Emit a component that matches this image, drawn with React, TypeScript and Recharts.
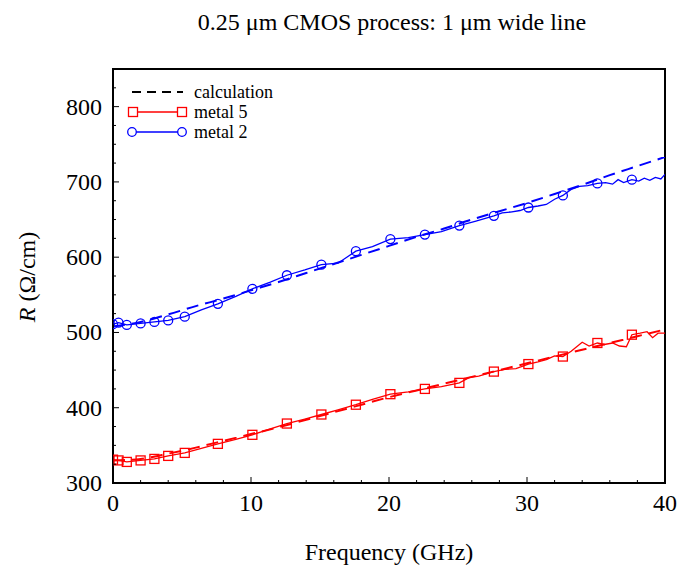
import React from 'react';
import { ComposedChart, Line, XAxis, YAxis, ReferenceArea, Legend } from 'recharts';

const FONT = '"Liberation Serif", "Times New Roman", Times, serif';

// Calculation curves (dashed)
const calcFreq = [0, 2, 4, 6, 8, 10, 12, 14, 16, 18, 20, 22, 24, 26, 28, 30, 32, 34, 36, 38, 40];
const calcMetal2 = [508, 514, 524, 535, 545, 556, 567, 579, 591, 603, 615, 627, 638, 650, 661, 672, 684, 696, 709, 721, 733];
const calcMetal5 = [330, 332, 339, 347, 356, 365, 374, 384, 394, 404, 414, 423, 432, 441, 450, 459, 468, 477, 486, 495, 504];

// Measured traces [GHz, Ohm/cm]
const metal2Trace: [number, number][] = [
  [0, 511], [0.4, 513], [1.0, 510], [2.0, 512], [3.0, 514], [4.0, 516], [5.2, 521], [6.4, 530],
  [7.6, 538], [8.9, 548], [10.1, 558], [11.4, 567], [12.6, 576], [13.9, 583], [15.1, 590], [16.3, 592],
  [17.6, 608], [18.8, 614], [20.1, 624], [21.4, 626], [22.6, 630], [23.8, 634], [25.1, 642], [26.3, 648],
  [27.6, 655], [28.2, 659], [28.8, 660], [29.5, 662], [30.1, 666], [30.8, 668], [31.4, 670], [32.0, 677],
  [32.6, 682], [33.2, 690], [33.8, 694], [34.4, 695], [35.1, 698], [35.7, 699], [36.2, 697], [36.6, 703],
  [37.0, 699], [37.6, 703], [38.1, 701], [38.5, 705], [38.9, 702], [39.3, 706], [39.7, 704], [40, 710],
];
const metal5Trace: [number, number][] = [
  [0, 331], [0.4, 330], [1.0, 328], [2.0, 330], [3.0, 332], [4.0, 336], [5.2, 340], [6.4, 346],
  [7.6, 352], [8.9, 358], [10.1, 364], [11.4, 372], [12.6, 379], [13.9, 385], [15.1, 391], [16.3, 397],
  [17.6, 404], [18.8, 411], [20.1, 418], [21.4, 421], [22.6, 425], [23.8, 428], [25.1, 433], [25.8, 440],
  [26.5, 442], [27.6, 448], [28.4, 451], [29.2, 452], [30.1, 458], [30.8, 461], [31.4, 464], [32.0, 469],
  [32.6, 468], [33.2, 475], [34.0, 487], [34.5, 482], [35.1, 486], [35.6, 484], [36.2, 486], [36.7, 482],
  [37.2, 481], [37.6, 497], [38.2, 499], [38.7, 501], [39.1, 493], [39.5, 499], [40, 499],
];
const markerFreq = [0, 0.4, 1.0, 2.0, 3.0, 4.0, 5.2, 7.6, 10.1, 12.6, 15.1, 17.6, 20.1, 22.6, 25.1, 27.6, 30.1, 32.6, 35.1, 37.6];

const xTicks = [0, 2, 4, 6, 8, 10, 12, 14, 16, 18, 20, 22, 24, 26, 28, 30, 32, 34, 36, 38, 40];
const yTicks = [300, 325, 350, 375, 400, 425, 450, 475, 500, 525, 550, 575, 600, 625, 650, 675, 700, 725, 750, 775, 800, 825];

const calc2Data = calcFreq.map((f, i) => ({ f, r: calcMetal2[i] }));
const calc5Data = calcFreq.map((f, i) => ({ f, r: calcMetal5[i] }));
const m2Data = metal2Trace.map(([f, r]) => ({ f, r, m: markerFreq.includes(f) }));
const m5Data = metal5Trace.map(([f, r]) => ({ f, r, m: markerFreq.includes(f) }));

const RED = '#ff0000';
const BLUE = '#0000ff';

const XTick = (props: any) => {
  const { x, y, payload } = props;
  const major = payload.value % 10 === 0;
  return (
    <g>
      <line x1={x} y1={y} x2={x} y2={y - (major ? 6 : 3)} stroke="#000" strokeWidth={1} />
      {major && (
        <text x={x} y={y + 28} textAnchor="middle" fontFamily={FONT} fontSize={24} fill="#000">
          {payload.value}
        </text>
      )}
    </g>
  );
};

const YTick = (props: any) => {
  const { x, y, payload } = props;
  const major = payload.value % 100 === 0;
  return (
    <g>
      <line x1={x} y1={y} x2={x + (major ? 6 : 3)} y2={y} stroke="#000" strokeWidth={1} />
      {major && (
        <text x={x - 11} y={y + 8} textAnchor="end" fontFamily={FONT} fontSize={24} fill="#000">
          {payload.value}
        </text>
      )}
    </g>
  );
};

const squareDot = (props: any) => {
  const { cx, cy, payload, index } = props;
  if (!payload || !payload.m) return <g key={`s${index}`} />;
  return <rect key={`s${index}`} x={cx - 4.5} y={cy - 4.5} width={9} height={9} fill="none" stroke={RED} strokeWidth={1.3} />;
};
const circleDot = (props: any) => {
  const { cx, cy, payload, index } = props;
  if (!payload || !payload.m) return <g key={`c${index}`} />;
  return <circle key={`c${index}`} cx={cx} cy={cy} r={4.5} fill="none" stroke={BLUE} strokeWidth={1.3} />;
};

const LegendBox = () => (
  <svg width={200} height={64} style={{ display: 'block' }}>
    <line x1={7} y1={12} x2={58} y2={12} stroke="#000" strokeWidth={2} strokeDasharray="9 6" />
    <text x={69} y={18} fontFamily={FONT} fontSize={18} fill="#000">calculation</text>
    <line x1={8} y1={32} x2={57} y2={32} stroke={RED} strokeWidth={1.3} />
    <rect x={3.5} y={27.5} width={9} height={9} fill="#fff" stroke={RED} strokeWidth={1.3} />
    <rect x={52.5} y={27.5} width={9} height={9} fill="#fff" stroke={RED} strokeWidth={1.3} />
    <text x={69} y={38} fontFamily={FONT} fontSize={18} fill="#000">metal 5</text>
    <line x1={7} y1={52} x2={57} y2={52} stroke={BLUE} strokeWidth={1.3} />
    <circle cx={7} cy={52} r={4.3} fill="#fff" stroke={BLUE} strokeWidth={1.3} />
    <circle cx={57} cy={52} r={4.3} fill="#fff" stroke={BLUE} strokeWidth={1.3} />
    <text x={69} y={58} fontFamily={FONT} fontSize={18} fill="#000">metal 2</text>
  </svg>
);

const YLabel = () => (
  <text transform="translate(35, 277) rotate(-90)" textAnchor="middle" fontFamily={FONT} fontSize={24} fill="#000">
    <tspan fontStyle="italic">R</tspan>
    <tspan> (Ω/cm)</tspan>
  </text>
);

const XLabel = () => (
  <text x={389} y={560} textAnchor="middle" fontFamily={FONT} fontSize={24} fill="#000">
    Frequency (GHz)
  </text>
);

export default function App() {
  return (
    <div style={{ position: 'absolute', left: 0, top: 0, width: 696, height: 567, background: '#fff', fontFamily: FONT }}>
      <div
        style={{
          position: 'absolute', left: 0, top: 8, width: 784, textAlign: 'center',
          fontFamily: FONT, fontSize: 24, lineHeight: '28px', color: '#000',
        }}
      >
        0.25 μm CMOS process: 1 μm wide line
      </div>
      <ComposedChart width={696} height={567} margin={{ top: 69, right: 31, bottom: 0, left: 0 }}>
        <XAxis
          dataKey="f"
          type="number"
          domain={[0, 40]}
          ticks={xTicks}
          interval={0}
          tickSize={0}
          tickMargin={0}
          height={84}
          axisLine={{ stroke: '#000', strokeWidth: 2 }}
          tickLine={false}
          tick={<XTick />}
          allowDataOverflow
          label={<XLabel />}
        />
        <YAxis
          type="number"
          domain={[300, 850]}
          ticks={yTicks}
          interval={0}
          tickSize={0}
          tickMargin={0}
          width={113}
          axisLine={{ stroke: '#000', strokeWidth: 2 }}
          tickLine={false}
          tick={<YTick />}
          allowDataOverflow
          label={<YLabel />}
        />
        <ReferenceArea x1={0} x2={40} y1={300} y2={850} fill="none" stroke="#000" strokeWidth={2} />
        <Line data={calc5Data} dataKey="r" type="monotone" stroke={RED} strokeWidth={2} strokeDasharray="12 7" dot={false} isAnimationActive={false} legendType="none" />
        <Line data={calc2Data} dataKey="r" type="monotone" stroke={BLUE} strokeWidth={2} strokeDasharray="12 7" dot={false} isAnimationActive={false} legendType="none" />
        <Line data={m5Data} dataKey="r" name="metal 5" type="linear" stroke={RED} strokeWidth={1.3} dot={squareDot} isAnimationActive={false} />
        <Line data={m2Data} dataKey="r" name="metal 2" type="linear" stroke={BLUE} strokeWidth={1.3} dot={circleDot} isAnimationActive={false} />
        <Legend
          layout="horizontal"
          verticalAlign="middle"
          align="center"
          content={<LegendBox />}
          wrapperStyle={{ position: 'absolute', left: 125, top: 80, width: 200, height: 64 }}
        />
      </ComposedChart>
    </div>
  );
}
